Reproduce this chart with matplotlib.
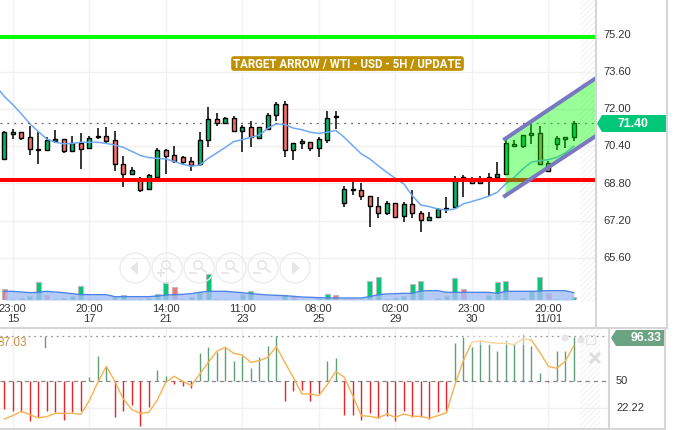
import matplotlib
matplotlib.use('Agg')
import matplotlib.pyplot as plt
from matplotlib.patches import Circle, Polygon, FancyBboxPatch, Rectangle
from matplotlib.transforms import ScaledTranslation

W, H = 673, 431

# candles, by bar number
opens = [69.85, 70.91, 71.00, 70.78, 70.27, 70.25, 70.64, 70.70, 70.18, 70.55,
         70.31, 70.80, 70.82, 70.65, 69.62, 69.22, 68.99, 68.55, 69.09, 70.22,
         70.01, 69.92, 69.75, 69.65, 70.65, 71.56, 71.38, 71.60, 71.04, 71.21,
         70.77, 71.15, 71.73, 72.20, 70.22, 70.52, 70.57, 70.34, 70.68, 71.64,
         67.94, 68.50, 68.50, 68.25, 67.82, 67.54, 67.94, 67.41, 67.90, 67.51,
         67.24, 67.34, 67.69, 67.77, 69.05, 68.99, 68.92, 69.02, 69.09, 69.19,
         70.48, 70.40, 70.88, 70.95, 69.66, 70.51, 70.70, 70.78]
closes = [71.00, 71.00, 70.77, 70.27, 70.25, 70.67, 70.70, 70.18, 70.55, 70.30,
          70.77, 70.82, 70.64, 69.62, 69.22, 69.36, 68.53, 69.15, 70.22, 70.00,
          69.75, 69.74, 69.59, 70.65, 71.56, 71.38, 71.60, 71.04, 71.21, 70.78,
          71.21, 71.73, 72.20, 70.22, 70.52, 70.62, 70.34, 70.70, 71.60, 71.69,
          68.55, 68.56, 68.25, 67.82, 67.54, 67.94, 67.37, 67.90, 67.54, 67.24,
          67.34, 67.70, 67.74, 68.99, 69.09, 68.80, 68.80, 69.09, 69.19, 70.52,
          70.40, 70.88, 70.97, 69.65, 69.32, 70.74, 70.78, 71.38]
highs = [71.07, 71.14, 71.00, 71.26, 71.00, 70.78, 71.08, 70.70, 70.85, 70.95,
         70.85, 71.17, 71.21, 71.04, 70.00, 69.51, 69.06, 69.21, 70.31, 70.28,
         70.39, 70.00, 69.95, 71.00, 72.07, 71.81, 71.64, 71.71, 71.33, 71.47,
         71.21, 71.81, 72.29, 72.33, 70.52, 70.70, 70.57, 70.78, 71.90, 71.90,
         68.68, 68.85, 68.80, 68.25, 68.20, 68.06, 67.94, 68.02, 68.50, 67.63,
         67.56, 67.73, 68.20, 69.13, 69.16, 69.06, 69.11, 69.23, 69.74, 70.78,
         70.68, 70.88, 71.36, 71.28, 69.78, 70.85, 70.78, 71.50]
lows = [69.81, 70.71, 70.68, 70.04, 69.65, 70.21, 70.52, 70.09, 70.14, 69.42,
        70.31, 70.71, 70.54, 69.35, 68.66, 69.16, 68.45, 68.53, 69.02, 69.21,
        69.68, 69.64, 69.33, 69.54, 70.38, 71.28, 71.36, 71.03, 70.14, 70.38,
        70.74, 71.14, 71.50, 69.95, 69.79, 70.30, 70.21, 69.95, 70.55, 71.14,
        67.80, 68.30, 68.10, 66.94, 67.33, 67.46, 67.37, 67.16, 67.33, 66.73,
        67.20, 67.30, 67.53, 67.73, 68.23, 68.80, 68.80, 68.27, 69.06, 69.16,
        70.37, 70.31, 70.50, 69.59, 69.32, 70.25, 70.34, 70.64]
# average line starts one bar left of the first candle, off the chart edge
ma_line = [73.00, 72.54, 72.19, 71.79, 71.37, 71.03, 70.71, 70.57, 70.50, 70.52, 70.57,
           70.57, 70.57, 70.52, 70.45, 70.35, 70.18, 70.00, 69.91, 69.88, 69.85,
           69.74, 69.62, 69.54, 69.59, 69.88, 70.11, 70.35, 70.60, 70.68, 70.78,
           70.88, 71.17, 71.36, 71.33, 71.18, 71.11, 71.00, 70.95, 71.00, 71.08,
           70.78, 70.42, 70.07, 69.85, 69.56, 69.28, 69.02, 68.78, 68.27, 67.87,
           67.80, 67.70, 67.65, 67.70, 67.92, 68.02, 68.13, 68.25, 68.42, 68.78,
           69.06, 69.42, 69.71, 69.78, 69.82, 69.92, 70.11, 70.40]

volume = [33, 3, 5, 13, 53, 15, 2, 5, 13, 43, 2, 2, 1, 10, 15, 2, 4, 6, 19, 55,
          38, 2, 10, 25, 79, 2, 2, 1, 17, 28, 1, 1, 1, 16, 13, 1, 1, 5, 19, 16,
          3, 2, 2, 56, 68, 2, 5, 13, 47, 56, 1, 5, 13, 65, 34, 1, 1, 16, 53, 56,
          1, 5, 28, 70, 21, 4, 4, 10]
volume_down = [0, 5, 20, 34, 39, 40, 54, 64, 65, 66]
volume_avg = [26, 26, 24, 22, 23, 26, 24, 22, 19, 16, 16, 16, 16, 10, 10, 10, 10,
              10, 12, 15, 16, 17, 19, 23, 26, 26, 26, 24, 22, 19, 17, 15, 14, 13,
              11, 9, 8, 7, 6, 6, 6, 6, 6, 10, 16, 18, 19, 20, 20, 27, 28, 28, 23,
              23, 23, 23, 23, 23, 20, 26, 26, 26, 26, 27, 28, 28, 28, 22]

osc_bars = [21.4, 19.7, 18.0, 9.4, 12.8, 19.7, 18.0, 10.4, 18.0, 19.0, 54.1, 75.8,
            66.2, 13.5, 19.7, 25.9, 3.5, 23.8, 62.0, 55.9, 47.2, 45.5, 43.1, 78.9,
            85.1, 80.0, 85.1, 70.7, 75.8, 63.4, 74.8, 86.2, 96.5, 29.3, 39.7, 41.0,
            29.3, 36.9, 71.3, 74.1, 15.6, 14.9, 10.1, 16.9, 11.8, 14.5, 8.7, 19.7,
            12.8, 12.8, 11.1, 18.7, 18.0, 89.3, 95.8, 85.1, 93.0, 88.6, 81.0, 93.0,
            88.6, 98.9, 86.8, 58.6, 49.0, 81.0, 81.7, 95.4]
osc_line = [11.1, 14.5, 19.0, 15.6, 12.1, 13.5, 16.9, 16.9, 16.9, 15.9, 30.0, 49.0,
            65.5, 50.0, 31.8, 20.7, 16.9, 18.0, 30.7, 49.0, 55.2, 50.0, 45.5, 57.6,
            69.6, 81.0, 85.1, 78.9, 77.2, 69.6, 71.3, 74.8, 85.8, 69.6, 54.1, 36.9,
            36.9, 35.2, 46.6, 60.3, 54.1, 35.2, 14.5, 13.8, 12.1, 16.3, 12.8, 16.3,
            13.8, 13.8, 11.8, 14.5, 17.3, 46.2, 71.3, 90.3, 91.7, 90.3, 89.3, 89.3,
            87.9, 93.7, 92.7, 80.0, 65.5, 63.4, 70.7, 86.8]

tick_bars = [1, 10, 19, 28, 37, 46, 55, 64]
tick_labels = ['23:00\n15', '20:00\n17', '14:00\n21', '11:00\n23',
               '08:00\n25', '02:00\n29', '23:00\n30', '20:00\n11/01']
price_ticks = [75.20, 73.60, 72.00, 70.40, 68.80, 67.20, 65.60]

green_level = 75.09
red_level = 68.96
last_price = 71.38
channel_x = [58.9, 69.6]
channel_upper = [70.71, 73.33]
channel_lower = [68.26, 70.84]

plt.rcParams['font.family'] = ['Liberation Sans', 'DejaVu Sans']
plt.rcParams['hatch.linewidth'] = 0.6
GRID = '#f1f1f1'
TEXT = '#333333'
BORDER = '#d6d6d6'
PX_BAR = 8.5


def rect(x0, y0, x1, y1):
    return [x0 / W, 1 - y1 / H, (x1 - x0) / W, (y1 - y0) / H]


def bar_at(px):
    return (px - 4.3) / PX_BAR


fig = plt.figure(figsize=(W / 100, H / 100), dpi=100)

# price panel
ax = fig.add_axes(rect(0, 0, 596, 303))
ax.set_xlim(bar_at(0), bar_at(596))
ax.set_ylim(72 - 193 * 0.04301, 72 + 110 * 0.04301)
for s in ax.spines.values():
    s.set_visible(False)
ax.set_xticks(tick_bars)
ax.set_xticklabels(tick_labels, linespacing=0.95)
ax.set_yticks(price_ticks)
ax.set_yticklabels(['%.2f' % p for p in price_ticks])
ax.yaxis.tick_right()
ax.tick_params(axis='both', length=0, labelsize=8, labelcolor=TEXT)
ax.tick_params(axis='y', pad=5)
ax.tick_params(axis='x', pad=1)
ax.grid(color=GRID, lw=1)
ax.set_axisbelow(True)
for lab in ax.get_yticklabels():
    lab.set_transform(lab.get_transform() + ScaledTranslation(0, 1.3 / 72, fig.dpi_scale_trans))
ax.text(603 / 596, 76.85, '76.80', transform=ax.get_yaxis_transform(), fontsize=8,
        color=TEXT, va='center', clip_on=False)
ax.axvspan(bar_at(580), bar_at(596), facecolor='none', edgecolor='#eeeeee',
           hatch='//////', lw=0, zorder=1)

bars = list(range(len(opens)))
ax.vlines(bars, lows, highs, color='black', lw=1.1, zorder=3)
for i in bars:
    up = closes[i] >= opens[i]
    ax.bar(i, abs(closes[i] - opens[i]), bottom=min(opens[i], closes[i]), width=0.5,
           color='#00b96b' if up else '#fa7268', edgecolor='black', lw=1, zorder=4)
ax.plot(range(-1, len(opens)), ma_line, color='#70a8f5', lw=1.1, zorder=5)
ax.axhline(last_price, color='#666666', lw=0.9, ls=(0, (1.5, 4)), zorder=5)
ax.axhline(green_level, color='#00ff00', lw=2.9, zorder=6)
ax.axhline(red_level, color='#ff0000', lw=2.9, zorder=6)
ax.fill_between(channel_x, channel_lower, channel_upper, color='#00ff00', alpha=0.4,
                lw=0, zorder=7)
ax.plot(channel_x, channel_upper, color='#7a78c0', lw=2.9, zorder=8)
ax.plot(channel_x, channel_lower, color='#7a78c0', lw=2.9, zorder=8)

# volume strip
vax = fig.add_axes(rect(0, 250, 596, 301), sharex=ax)
vax.patch.set_alpha(0)
vax.axis('off')
vax.set_ylim(0, 153)
vol_colors = ['#f07272' if i in volume_down else '#00c878' for i in bars]
vax.bar(bars, volume, width=0.55, color=vol_colors, edgecolor='#bdbdbd', lw=0.8, zorder=1)
vax.fill_between(bars, volume_avg, color='#a3bff5', alpha=0.8, lw=0, zorder=2)
vax.plot(bars, volume_avg, color='#4d84ea', lw=1, zorder=2)

# oscillator panel
oax = fig.add_axes(rect(0, 330, 609, 429))
oax.set_xlim(bar_at(0), bar_at(609))
oax.set_ylim(50 - 46.7 * 1.033, 50 + 52.3 * 1.033)
for s in oax.spines.values():
    s.set_visible(False)
oax.set_xticks(tick_bars)
oax.set_yticks([22.22])
oax.tick_params(length=0, labelbottom=False, labelleft=False)
oax.grid(color=GRID, lw=1)
oax.set_axisbelow(True)
oax.axvspan(bar_at(580), bar_at(600), facecolor='none', edgecolor='#eeeeee',
            hatch='//////', lw=0, zorder=1)
oax.axhline(96.33, color='#999999', lw=0.9, ls=(0, (1.5, 3)), zorder=2)
oax.axhline(50, color='#888888', lw=0.9, ls=(0, (3.5, 3)), zorder=2)
osc_colors = ['#5f9f78' if v >= 50 else '#e8262a' for v in osc_bars]
oax.vlines(bars, 50, osc_bars, colors=osc_colors, lw=1, zorder=3)
oax.plot(bars, osc_line, color='#f7b24f', lw=1, zorder=4)

# borders, buttons, badges drawn on a pixel overlay
over = fig.add_axes([0, 0, 1, 1])
over.set_xlim(0, W)
over.set_ylim(H, 0)
over.axis('off')
over.patch.set_alpha(0)
over.plot([596, 596], [0, 329], color=BORDER, lw=1.5)
over.plot([667, 667], [0, 329], color=BORDER, lw=1.5)
over.plot([0, 667], [329, 329], color=BORDER, lw=1.5)
over.plot([609, 609], [329, 430], color=BORDER, lw=1.5)
over.plot([665, 665], [329, 430], color=BORDER, lw=1.5)
over.plot([0, 665], [430, 430], color=BORDER, lw=1.5)

over.text(-2, 343, '87.03', color='#c8913f', fontsize=8.5, va='center', ha='left')
over.plot([45, 45], [338, 348], color='#888888', lw=1)

# pale strip over the top of the oscillator
over.add_patch(Rectangle((468, 331), 62, 15, facecolor='white', edgecolor='none', alpha=0.45))

# title badge
over.add_patch(FancyBboxPatch((232, 58), 231, 13, boxstyle='round,pad=0,rounding_size=2',
                              facecolor='#bf9000', edgecolor='#bf9000', lw=1.2))
over.text(347.5, 64.5, 'TARGET ARROW / WTI - USD - 5H / UPDATE', color='white', fontsize=8.3,
          fontweight='bold', family='Roboto', ha='center', va='center')

# value badges
over.add_patch(Polygon([(602, 116), (667, 116), (667, 133), (602, 133), (597, 124.5)],
                       facecolor='#00c878', edgecolor='none'))
over.text(633, 124, '71.40', color='white', fontsize=8.8, fontweight='bold',
          ha='center', va='center')
over.add_patch(Polygon([(616, 331), (665, 331), (665, 347), (616, 347), (611, 339)],
                       facecolor='#6ba383', edgecolor='none'))
over.text(662, 338.5, '96.33', color='white', fontsize=8.8, fontweight='bold',
          ha='right', va='center')
over.text(622, 381, '50', color=TEXT, fontsize=8, ha='center', va='center')
over.text(630, 408, '22.22', color=TEXT, fontsize=8, ha='center', va='center')

# faint navigation buttons
FAINT = '#e6e6e6'
for k, cx in enumerate([135, 167, 199, 231, 263, 295]):
    over.add_patch(Circle((cx, 269), 15, facecolor='none', edgecolor='#ececec', lw=1))
    if k == 0:
        over.add_patch(Polygon([(130, 269), (138, 262), (138, 276)], facecolor=FAINT, edgecolor='none'))
    elif k == 5:
        over.add_patch(Polygon([(300, 269), (292, 262), (292, 276)], facecolor=FAINT, edgecolor='none'))
    else:
        over.add_patch(Circle((cx - 1, 266), 4.2, facecolor='none', edgecolor=FAINT, lw=1.2))
        over.plot([cx + 2, cx + 7], [269, 273], color=FAINT, lw=1.4)
        over.plot([cx - 9, cx - 3], [274, 274], color=FAINT, lw=1.3)
        if k == 1:
            over.plot([cx - 6, cx - 6], [271, 277], color=FAINT, lw=1.3)

# faint corner icons in the oscillator panel
over.add_patch(Circle((565, 339), 3.5, facecolor=FAINT, edgecolor='none'))
over.add_patch(Circle((581, 341), 3.5, facecolor=FAINT, edgecolor='none'))
over.add_patch(Polygon([(595, 336), (595, 345), (586, 345), (586, 336)],
                       facecolor='none', edgecolor=FAINT, lw=1))
over.plot([591, 599], [355, 363], color='#dddddd', lw=2)
over.plot([591, 599], [363, 355], color='#dddddd', lw=2)

fig.savefig('out.png', dpi=100)
